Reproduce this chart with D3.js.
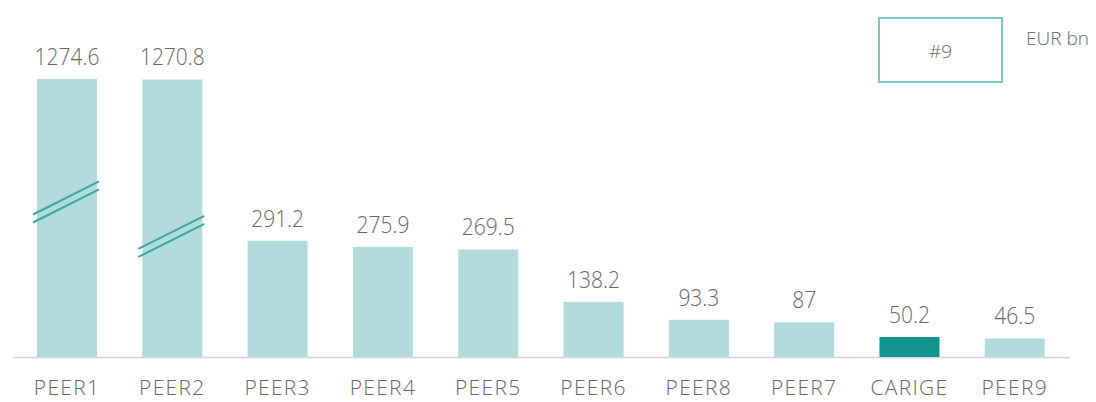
<!DOCTYPE html>
<html>
<head>
<meta charset="utf-8">
<script src="https://cdn.jsdelivr.net/npm/d3@7"></script>
<style>
  html, body { margin: 0; padding: 0; background: #ffffff; }
  svg { display: block; }
  text { font-family: "Open Sans", "Lato", sans-serif; font-weight: 300; fill: #666666; }
</style>
</head>
<body>
<svg id="chart" width="1096" height="402"></svg>
<script>
// Total assets by bank, EUR bn
const categories = ["PEER1", "PEER2", "PEER3", "PEER4", "PEER5", "PEER6", "PEER8", "PEER7", "CARIGE", "PEER9"];
const values = [1274.6, 1270.8, 291.2, 275.9, 269.5, 138.2, 93.3, 87, 50.2, 46.5];
const valueLabels = ["1274.6", "1270.8", "291.2", "275.9", "269.5", "138.2", "93.3", "87", "50.2", "46.5"];
const highlight = "CARIGE";
const brokenBars = ["PEER1", "PEER2"];
const rankLabel = "#9";
const unitLabel = "EUR bn";

const baseY = 357;
const colors = { bar: "#b2dbdc", highlight: "#0f9490", breakLine: "#3aa8a2", axis: "#d3d3d3", box: "#7fc3c3" };

const svg = d3.select("#chart");

const x = d3.scaleBand()
  .domain(categories)
  .range([14.4, 1067.4])
  .paddingInner(0.43)
  .paddingOuter(0.215);

// Broken value axis: linear up to 420, compressed above it
const y = d3.scaleLinear()
  .domain([0, 420, 1300])
  .range([baseY, 189.4, 75.7]);

// Baseline
svg.append("line")
  .attr("x1", 13).attr("x2", 1070)
  .attr("y1", baseY + 0.5).attr("y2", baseY + 0.5)
  .attr("stroke", colors.axis).attr("stroke-width", 1.5);

const data = categories.map((c, i) => ({ cat: c, value: values[i], label: valueLabels[i] }));

// Bars
svg.selectAll("rect.bar")
  .data(data)
  .join("rect")
  .attr("class", "bar")
  .attr("x", d => x(d.cat))
  .attr("width", x.bandwidth())
  .attr("y", d => y(d.value))
  .attr("height", d => y(0) - y(d.value))
  .attr("fill", d => d.cat === highlight ? colors.highlight : colors.bar);

// Value labels
svg.selectAll("text.val")
  .data(data)
  .join("text")
  .attr("class", "val")
  .attr("x", d => x(d.cat) + x.bandwidth() / 2)
  .attr("y", d => y(d.value) - 14)
  .attr("text-anchor", "middle")
  .attr("font-size", 21)
  .attr("transform", d => {
    const cx = x(d.cat) + x.bandwidth() / 2, cy = y(d.value) - 14;
    return `translate(${cx},${cy}) scale(1,1.15) translate(${-cx},${-cy})`;
  })
  .text(d => d.label);

// Category labels
svg.selectAll("text.cat")
  .data(categories)
  .join("text")
  .attr("class", "cat")
  .attr("x", d => x(d) + x.bandwidth() / 2)
  .attr("y", 395)
  .attr("text-anchor", "middle")
  .attr("font-size", 21)
  .attr("letter-spacing", 1.3)
  .text(d => d);

// Break marks on the truncated bars (distance below bar top, px)
const breakOffsets = [123, 157];
brokenBars.forEach((c, i) => {
  const x0 = x(c) - 4, x1 = x(c) + x.bandwidth() + 2;
  const cy = y(values[categories.indexOf(c)]) + breakOffsets[i];
  const cx = (x0 + x1) / 2;
  const slope = 0.5;
  [-4, 4].forEach(off => {
    svg.append("line")
      .attr("x1", x0).attr("y1", cy + off + (cx - x0) * slope)
      .attr("x2", x1).attr("y2", cy + off - (x1 - cx) * slope)
      .attr("stroke", colors.breakLine).attr("stroke-width", 2);
  });
});

// Rank box
svg.append("rect")
  .attr("x", 879).attr("y", 18)
  .attr("width", 123).attr("height", 64)
  .attr("fill", "none")
  .attr("stroke", colors.box).attr("stroke-width", 2);
svg.append("text")
  .attr("x", 940.5).attr("y", 58)
  .attr("text-anchor", "middle")
  .attr("font-size", 19)
  .text(rankLabel);

svg.append("text")
  .attr("x", 1026).attr("y", 45)
  .attr("font-size", 19)
  .text(unitLabel);
</script>
</body>
</html>
